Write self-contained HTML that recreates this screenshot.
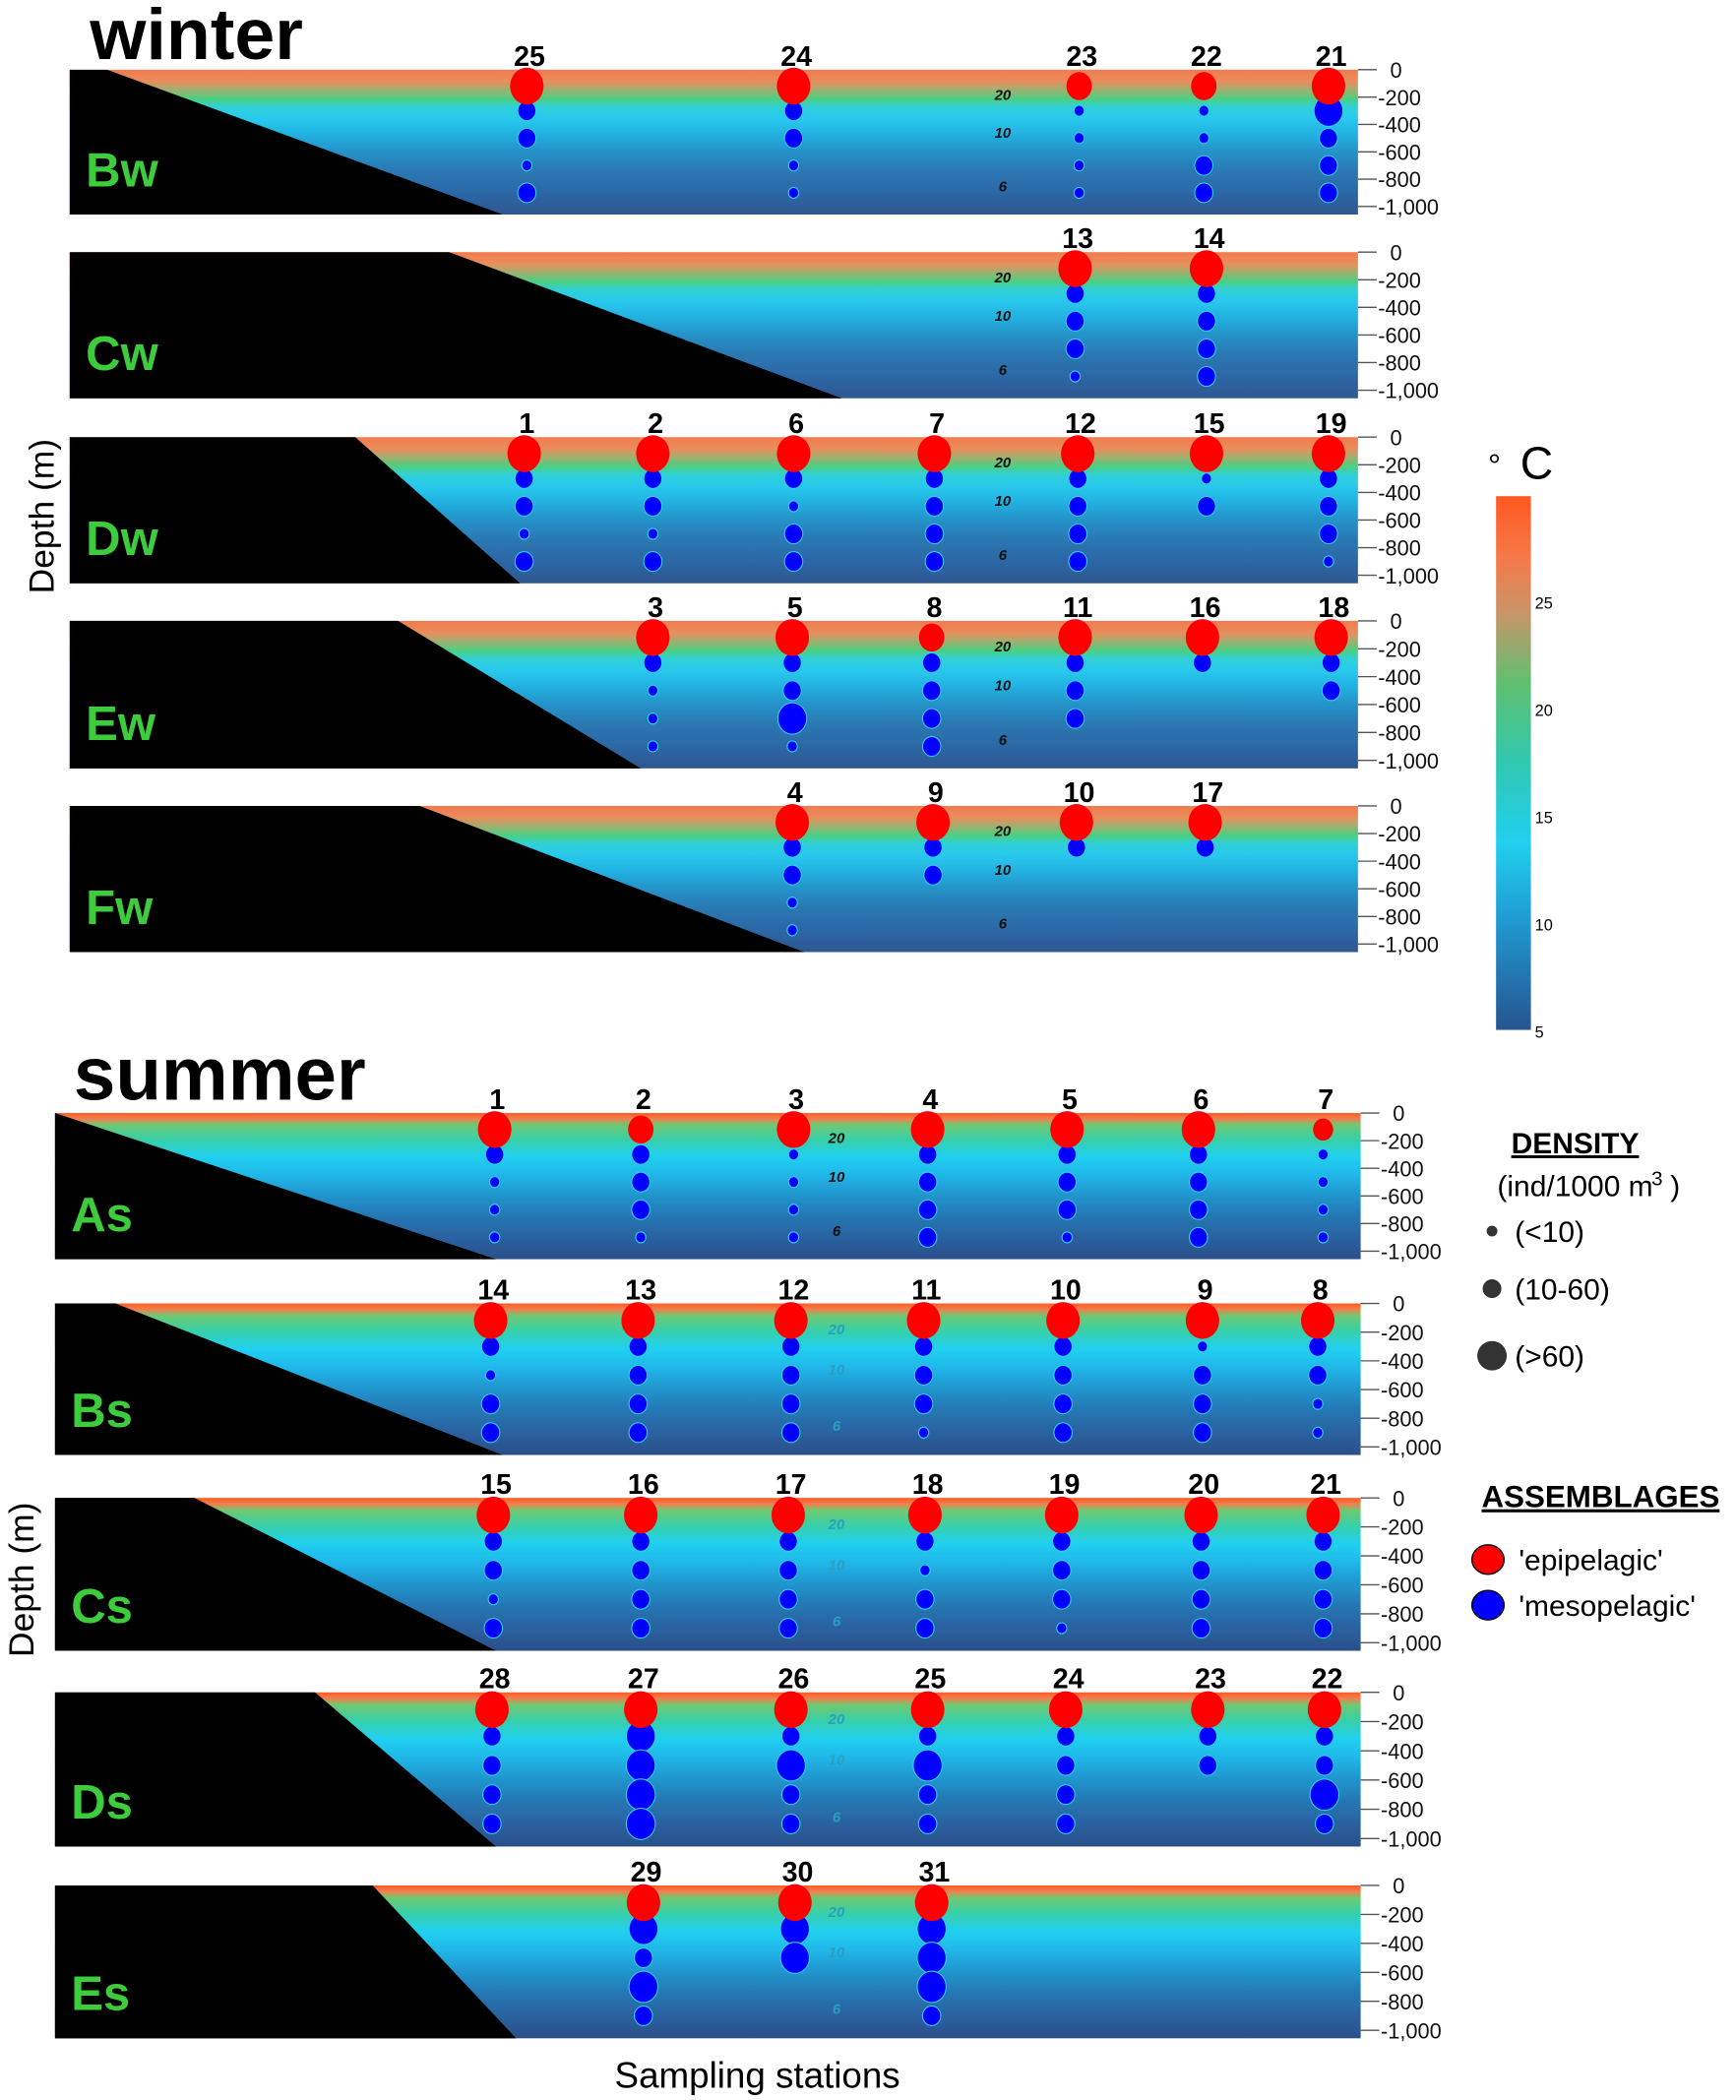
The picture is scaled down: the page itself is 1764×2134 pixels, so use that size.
<!DOCTYPE html>
<html><head><meta charset="utf-8"><style>
html,body{margin:0;padding:0;background:#fff}
svg{display:block}
text{font-family:"Liberation Sans",sans-serif}
</style></head><body>
<svg id="chart" width="1764" height="2134" viewBox="0 0 1295 1566" preserveAspectRatio="none" xmlns="http://www.w3.org/2000/svg">
<defs>
<linearGradient id="gw" x1="0" y1="0" x2="0" y2="1">
<stop offset="0" stop-color="#f27a4e"/><stop offset="0.08" stop-color="#e98e5c"/>
<stop offset="0.14" stop-color="#9fb070"/><stop offset="0.2" stop-color="#4ccf80"/>
<stop offset="0.26" stop-color="#2fd0d8"/><stop offset="0.34" stop-color="#28c8ee"/>
<stop offset="0.45" stop-color="#22b0e0"/><stop offset="0.55" stop-color="#2496cc"/>
<stop offset="0.7" stop-color="#2a78b2"/><stop offset="0.85" stop-color="#2c67a6"/>
<stop offset="1" stop-color="#2e5790"/></linearGradient>
<linearGradient id="gs" x1="0" y1="0" x2="0" y2="1">
<stop offset="0" stop-color="#ff5a20"/><stop offset="0.04" stop-color="#f08050"/>
<stop offset="0.08" stop-color="#70c870"/><stop offset="0.18" stop-color="#38d0a8"/>
<stop offset="0.3" stop-color="#20d0f0"/><stop offset="0.42" stop-color="#20b8ea"/>
<stop offset="0.55" stop-color="#2098d0"/><stop offset="0.7" stop-color="#2478b4"/>
<stop offset="0.85" stop-color="#2a62a0"/><stop offset="1" stop-color="#2a4f8a"/></linearGradient>
<linearGradient id="gbar" x1="0" y1="0" x2="0" y2="1">
<stop offset="0" stop-color="#ff5820"/><stop offset="0.12" stop-color="#f57a4a"/>
<stop offset="0.22" stop-color="#c89468"/><stop offset="0.35" stop-color="#60c070"/>
<stop offset="0.5" stop-color="#30c8b0"/><stop offset="0.65" stop-color="#20d0f0"/>
<stop offset="0.8" stop-color="#2098d0"/><stop offset="1" stop-color="#265490"/></linearGradient>
</defs>
<g id="root"></g>
</svg>
<script>
// ---- data ----
const panelNames = ["Bw","Cw","Dw","Ew","Fw","As","Bs","Cs","Ds","Es"];
const panelTops  = [52,188,326,463,601,830,972,1117,1262,1406];
const panelBots  = [160,297,435,573,710,939,1085,1231,1377,1520];
const shelfTopX  = [80,335,265,297,313,41,86,145,235,278];
const shelfBotX  = [375,628,388,478,600,370,375,370,370,385];
// station labels
const stLabels = [
 ["25","24","23","22","21"],["13","14"],["1","2","6","7","12","15","19"],
 ["3","5","8","11","16","18"],["4","9","10","17"],
 ["1","2","3","4","5","6","7"],["14","13","12","11","10","9","8"],
 ["15","16","17","18","19","20","21"],["28","27","26","25","24","23","22"],["29","30","31"]];
const stX = [
 [393,592,805,898,991],[802,900],[391,487,592,697,804,900,991],
 [487,591,695,802,897,993],[591,696,803,899],
 [369,478,592,692,796,894,987],[366,476,590,689,793,897,983],
 [368,478,588,690,792,896,987],[367,478,590,692,795,901,988],[480,593,695]];
// epipelagic (red) size class per station: 1 <10, 2 10-60, 3 >60
const redSize = [
 [3,3,2,2,3],[3,3],[3,3,3,3,3,3,3],[3,3,2,3,3,3],[3,3,3,3],
 [3,2,3,3,3,3,1],[3,3,3,3,3,3,3],[3,3,3,3,3,3,3],[3,3,3,3,3,3,3],[3,3,3]];
// mesopelagic (blue) size classes at depths 300,500,700,900 (0 = none)
const blueSize = [
 [[2,2,1,2],[2,2,1,1],[1,1,1,1],[1,1,2,2],[3,2,2,2]],
 [[2,2,2,1],[2,2,2,2]],
 [[2,2,1,2],[2,2,1,2],[2,1,2,2],[2,2,2,2],[2,2,2,2],[1,2,0,0],[2,2,2,1]],
 [[2,1,1,1],[2,2,3,1],[2,2,2,2],[2,2,2,0],[2,0,0,0],[2,2,0,0]],
 [[2,2,1,1],[2,2,0,0],[2,0,0,0],[2,0,0,0]],
 [[2,1,1,1],[2,2,2,1],[1,1,1,1],[2,2,2,2],[2,2,2,1],[2,2,2,2],[1,1,1,1]],
 [[2,1,2,2],[2,2,2,2],[2,2,2,2],[2,2,2,1],[2,2,2,2],[1,2,2,2],[2,2,1,1]],
 [[2,2,1,2],[2,2,2,2],[2,2,2,2],[2,1,2,2],[2,2,2,1],[2,2,2,2],[2,2,2,2]],
 [[2,2,2,2],[3,3,3,3],[2,3,2,2],[2,3,2,2],[2,2,2,2],[2,2,0,0],[2,2,3,2]],
 [[3,2,3,2],[3,3,0,0],[3,3,3,2]]];
const redDepth = 100;
const blueDepths = [300,500,700,900];
const depthTicks = [0,-200,-400,-600,-800,-1000];
const tickText = ["0","-200","-400","-600","-800","-1,000"];
const contourTemps = ["20","10","6"];
const contourDepths = [180,460,850];
const cbTicks = [25,20,15,10,5];

const NS="http://www.w3.org/2000/svg";
const root=document.getElementById('root');
function mk(tag,attrs,parent){const e=document.createElementNS(NS,tag);for(const k in attrs)e.setAttribute(k,attrs[k]);(parent||root).appendChild(e);return e;}
const X0=[52,52,52,52,52,41,41,41,41,41], X1=[1013,1013,1013,1013,1013,1015,1015,1015,1015,1015];
const blueR=[0,3.8,6.8,10.8], redR=[0,7.5,9.5,12.5];

panelNames.forEach((nm,p)=>{
  const top=panelTops[p], bot=panelBots[p], x0=X0[p], x1=X1[p];
  const yOf=d=>top+ d*(bot-top-6)/1000;
  const g=mk('g',{});
  
  
  const bg=mk('rect',{x:x0,y:top,width:x1-x0,height:bot-top,fill:p<5?'url(#gw)':'url(#gs)'},g);
  
  
  const sh=mk('polygon',{points:`${x0},${top} ${shelfTopX[p]},${top} ${shelfBotX[p]},${bot} ${x0},${bot}`,fill:'#000'},g);
  
  
  const lab=mk('text',{x:x0+12,y:bot-21,'font-size':36,'font-weight':'bold',fill:'#3ccc3c'},g);
  lab.textContent=nm;
  
  
  contourTemps.forEach((t,i)=>{
    const c=mk('text',{x:p<5?748:624,y:yOf(contourDepths[i])+4,'font-size':11,'font-style':'italic','font-weight':'bold','text-anchor':'middle',fill:(p<6)?'#111':'#2a9fc0'},g);
    c.textContent=t;
    
    
  });
  depthTicks.forEach((d,i)=>{
    const y=yOf(-d);
    const tl=mk('line',{x1:x1,x2:x1+14,y1:y,y2:y,stroke:'#555','stroke-width':1},g);
    
    
    const tt=mk('text',{x:d===0?x1+24:x1+15,y:y+6,'font-size':16,fill:'#111'},g);
    tt.textContent=tickText[i];
    
    
  });
  stX[p].forEach((sx,s)=>{
    const n=mk('text',{x:sx+2,y:top-3,'font-size':21,'font-weight':'bold','text-anchor':'middle',fill:'#000'},g);
    n.textContent=stLabels[p][s];
    
    
    blueSize[p][s].forEach((b,k)=>{
      if(!b) return;
      const c=mk('ellipse',{cx:sx,cy:yOf(blueDepths[k]),rx:blueR[b],ry:blueR[b]*1.08,fill:'#0000ff',stroke:'#2fd0f0','stroke-width':0.8},g);
      
      
    });
    const r=redR[redSize[p][s]];
    const rc=mk('ellipse',{cx:sx,cy:yOf(redDepth)+2,rx:r,ry:r*1.1,fill:'#ff0000'},g);
    
    
  });
});

function txt(x,y,s,attrs,name){const t=mk('text',Object.assign({x:x,y:y,fill:'#000'},attrs));t.textContent=s;return t;}
txt(67,44,'winter',{'font-size':54,'font-weight':'bold'},'winter-title');
txt(55,820,'summer',{'font-size':56,'font-weight':'bold'},'summer-title');
txt(0,0,'Depth (m)',{'font-size':26,transform:'translate(40,385) rotate(-90)','text-anchor':'middle'},'y-axis-title-winter');
txt(0,0,'Depth (m)',{'font-size':26,transform:'translate(25,1178) rotate(-90)','text-anchor':'middle'},'y-axis-title-summer');
txt(565,1557,'Sampling stations',{'font-size':27,'text-anchor':'middle'},'x-axis-title');
const cb=mk('rect',{x:1116,y:370,width:26,height:398,fill:'url(#gbar)'});


txt(1110,355,'°',{'font-size':24},'colorbar-degree');
txt(1134,357,'C',{'font-size':34},'colorbar-unit');
cbTicks.forEach(v=>{const y=770-(v-5)*(320/20);txt(1145,y+4,String(v),{'font-size':12},'colorbar-tick-label');});
txt(1175,860,'DENSITY',{'font-size':22,'font-weight':'bold','text-anchor':'middle','text-decoration':'underline'},'density-legend-title');
txt(1175,892,'(ind/1000 m',{'font-size':22,'text-anchor':'middle'},'density-unit');
txt(1232,884,'3',{'font-size':15},'density-unit-exp');
txt(1246,892,')',{'font-size':22},'density-unit-close');
[[918,4,'(<10)'],[961,7,'(10-60)'],[1011,11,'(>60)']].forEach(a=>{
  const c=mk('circle',{cx:1113,cy:a[0],r:a[1],fill:'#333'});
  
  
  txt(1130,a[0]+8,a[2],{'font-size':22},'density-legend-label');
});
txt(1194,1124,'ASSEMBLAGES',{'font-size':23,'font-weight':'bold','text-anchor':'middle','text-decoration':'underline'},'assemblage-legend-title');
[[1163,'#ff0000',"'epipelagic'"],[1197,'#0000ff',"'mesopelagic'"]].forEach(a=>{
  const c=mk('ellipse',{cx:1110,cy:a[0],rx:12,ry:11,fill:a[1],stroke:'#000','stroke-width':1});
  
  
  txt(1133,a[0]+8,a[2],{'font-size':22},'assemblage-legend-label');
});
</script>
</body></html>
